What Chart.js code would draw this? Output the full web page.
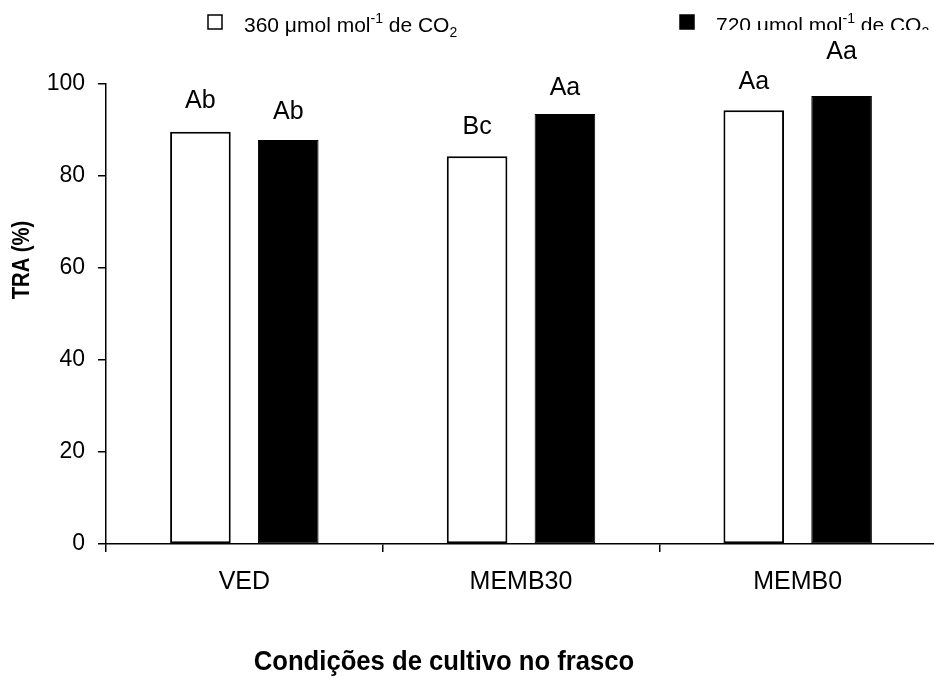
<!DOCTYPE html>
<html>
<head>
<meta charset="utf-8">
<script src="https://cdn.jsdelivr.net/npm/chart.js@4"></script>
<style>
  html, body { margin: 0; padding: 0; background: #fff; overflow: hidden; }
  #wrap { width: 940px; height: 679px; }
</style>
</head>
<body>
<div id="wrap"><canvas id="c" width="940" height="679"></canvas></div>
<script>
// dados
const categorias = ['VED', 'MEMB30', 'MEMB0'];
const tra360 = [89.6, 84.3, 94.3];
const tra720 = [87.8, 93.5, 97.4];
const letras360 = ['Ab', 'Bc', 'Aa'];
const letras720 = ['Ab', 'Aa', 'Aa'];
const yTicks = [0, 20, 40, 60, 80, 100];
const legenda = [
  ['360 μmol mol', '-1', ' de CO', '2'],
  ['720 μmol mol', '-1', ' de CO', '2']
];

const FONT = '"Liberation Sans", Arial, sans-serif';
// distância (px) entre topo da barra e o centro da letra
const letraOffset = [[31, 28], [29, 26], [28, 44]];

const decoracao = {
  id: 'decoracao',
  afterDatasetsDraw(chart) {
    const ctx = chart.ctx;
    ctx.save();
    ctx.fillStyle = '#000';
    // letras sobre as barras
    ctx.font = '25px ' + FONT;
    ctx.textAlign = 'center';
    ctx.textBaseline = 'middle';
    chart.data.datasets.forEach((ds, di) => {
      chart.getDatasetMeta(di).data.forEach((bar, i) => {
        ctx.fillText(ds.letras[i], bar.x, bar.y - letraOffset[i][di]);
      });
    });

    // legenda (a segunda aparece cortada embaixo no original)
    const xs = [208, 680];
    legenda.forEach((parts, li) => {
      const ds = chart.data.datasets[li];
      ctx.lineWidth = 1.5;
      ctx.strokeStyle = '#000';
      ctx.fillStyle = ds.backgroundColor;
      ctx.fillRect(xs[li], 15, 14, 14);
      ctx.strokeRect(xs[li], 15, 14, 14);
      ctx.save();
      if (li === 1) {
        ctx.beginPath();
        ctx.rect(xs[li] + 20, 0, 300, 30);
        ctx.clip();
      }
      ctx.fillStyle = '#000';
      ctx.textAlign = 'left';
      ctx.textBaseline = 'alphabetic';
      let x = xs[li] + 36;
      const base = 32;
      parts.forEach((p, k) => {
        const small = k % 2 === 1;
        ctx.font = (small ? '14px ' : '21px ') + FONT;
        const dy = small ? (k === 1 ? -9 : 5) : 0;
        ctx.fillText(p, x, base + dy);
        x += ctx.measureText(p).width;
      });
      ctx.restore();
    });

    // títulos dos eixos
    ctx.textAlign = 'center';
    ctx.textBaseline = 'middle';
    ctx.save();
    ctx.font = 'bold 27px ' + FONT;
    ctx.translate(444, 663);
    ctx.scale(0.95, 1);
    ctx.fillText('Condições de cultivo no frasco', 0, 0);
    ctx.restore();
    ctx.font = 'bold 23px ' + FONT;
    ctx.translate(23, 260);
    ctx.rotate(-Math.PI / 2);
    ctx.scale(0.88, 1);
    ctx.fillText('TRA (%)', 0, 0);
    ctx.restore();
  }
};

new Chart(document.getElementById('c'), {
  type: 'bar',
  data: {
    labels: categorias,
    datasets: [
      {
        label: legenda[0].join(''),
        data: tra360,
        letras: letras360,
        backgroundColor: '#ffffff',
        borderColor: '#000000',
        borderWidth: 2,
        borderSkipped: false,
        categoryPercentage: 0.635,
        barPercentage: 0.69
      },
      {
        label: legenda[1].join(''),
        data: tra720,
        letras: letras720,
        backgroundColor: '#000000',
        borderColor: '#000000',
        borderWidth: 1,
        borderSkipped: false,
        categoryPercentage: 0.635,
        barPercentage: 0.69
      }
    ]
  },
  options: {
    responsive: false,
    animation: false,
    layout: { padding: { top: 84, right: 4, left: 0, bottom: 0 } },
    plugins: {
      legend: { display: false },
      tooltip: { enabled: false }
    },
    scales: {
      x: {
        offset: true,
        grid: { offset: true, drawOnChartArea: false, color: '#000', tickLength: 8, lineWidth: 1.5 },
        border: { color: '#000', width: 1.5 },
        ticks: { color: '#000', font: { family: FONT, size: 25 }, padding: 15 },
        afterFit: (s) => { s.height = 679 - 544; }
      },
      y: {
        min: 0,
        max: 100,
        afterBuildTicks: (s) => { s.ticks = yTicks.map(v => ({ value: v })); },
        grid: { drawOnChartArea: false, color: '#000', tickLength: 8, lineWidth: 1.5 },
        border: { color: '#000', width: 1.5 },
        ticks: { color: '#000', font: { family: FONT, size: 23 }, padding: 13 },
        afterFit: (s) => { s.width = 106; }
      }
    }
  },
  plugins: [decoracao]
});
</script>
</body>
</html>
